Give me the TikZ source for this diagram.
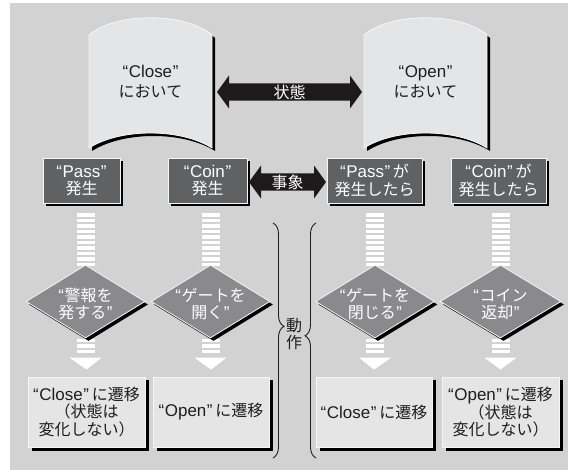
\documentclass[tikz,border=0pt]{standalone}
\usepackage{fontspec}
\setmainfont{Noto Sans CJK JP}
\newfontfamily\lt[Scale=1.06]{Liberation Sans}
\newcommand\oq{{\lt “\kern0.6pt}}
\newcommand\cq{{\lt \kern0.6pt”}}
\usetikzlibrary{shapes.geometric,shadows,decorations.pathreplacing,calc}
\definecolor{bgc}{RGB}{210,210,211}
\definecolor{cylc}{RGB}{228,229,230}
\definecolor{evc}{RGB}{96,97,99}
\definecolor{diac}{RGB}{138,138,140}
\definecolor{resc}{RGB}{229,229,230}
\definecolor{arrc}{RGB}{28,26,26}
\definecolor{txt}{RGB}{30,30,30}
\definecolor{edge}{RGB}{246,246,246}
\tikzset{
  jfont/.style={font=\fontsize{16}{17.2}\selectfont},
  evbox/.style={rectangle, fill=evc, draw=edge, line width=0.8pt, text=white, align=center, inner sep=0pt, jfont,
    minimum height=45, general shadow={fill=black, shadow xshift=3pt, shadow yshift=-3pt}},
  dia/.style={diamond, fill=diac, draw=edge, line width=0.8pt, minimum width=119, minimum height=73, inner sep=0pt,
    general shadow={fill=black, shadow xshift=3pt, shadow yshift=-3pt}},
  diaguide/.style={diamond, minimum width=119, minimum height=73, inner sep=0pt},
  diatext/.style={text=white, align=center, jfont, inner sep=0pt},
  resbox/.style={rectangle, fill=resc, draw=edge, line width=0.8pt, text=txt, align=center, inner sep=0pt, jfont,
    minimum height=70, general shadow={fill=black, shadow xshift=3.5pt, shadow yshift=-3.5pt}},
  cyltext/.style={text=txt, align=center, inner sep=0pt, font=\fontsize{16}{20}\selectfont},
  arrtext/.style={text=white, inner sep=0pt, jfont},
  bracestyle/.style={draw=txt, line width=0.9pt, decorate},
}
\newcommand\dblarrow[2]{%
  \fill[arrc] (#1) -- ([shift={(12,-16.5)}]#1) -- ([shift={(12,-8.7)}]#1) -- ([shift={(-12,-8.7)}]#2)
   -- ([shift={(-12,-16.5)}]#2) -- (#2) -- ([shift={(-12,16.5)}]#2) -- ([shift={(-12,8.7)}]#2)
   -- ([shift={(12,8.7)}]#1) -- ([shift={(12,16.5)}]#1) -- cycle;}
\newcommand\stripes[2]{%
  \foreach \k in {0,...,9}
    \fill[white] ($(#1.south -| #2.north)+(-9,10+5.5*\k)$) rectangle ++(18,3.5);}
\newcommand\stripehead[2]{%
  \foreach \k in {0,1,2}
    \fill[white] ($(#1.south)+(-9,0.5+5.5*\k)$) rectangle ++(18,3.5);
  \fill[white] ($(#1.south)+(-16,19.5)$) -- ($(#1.south)+(16,19.5)$) -- ($(#2.north)+(0,-7)$) -- cycle;}
\begin{document}
\begin{tikzpicture}[x=1pt,y=-1pt]
\useasboundingbox (0,0) rectangle (568,470);
\fill[white] (0,0) rectangle (568,470);
\fill[bgc] (10,3) rectangle (568,470);

% cylinders (states)
\foreach \cx in {150.5,425.5}{
  \fill[black] ({\cx-61.5+3},38) .. controls ({\cx-35+3},15) and ({\cx+35+3},15) .. ({\cx+61.5+3},38)
     -- ({\cx+61.5+3},151) .. controls ({\cx+30+3},131) and ({\cx-30+3},131) .. ({\cx-61.5+3},151) -- cycle;
  \filldraw[fill=cylc, draw=edge, line width=0.8pt] ({\cx-61.5},35) .. controls ({\cx-35},12) and ({\cx+35},12) .. ({\cx+61.5},35)
     -- ({\cx+61.5},148) .. controls ({\cx+30},128) and ({\cx-30},128) .. ({\cx-61.5},148) -- cycle;
}
\node[cyltext] (cylC) at (150.5,82) {{\oq}{\lt Close}{\cq}\\において};
\node[cyltext] (cylO) at (425.5,82) {{\oq}{\lt Open}{\cq}\\において};

% state arrow
\coordinate (sL) at (217,92);
\coordinate (sR) at (362,92);
\dblarrow{sL}{sR}
\node[arrtext] (stateLbl) at ($(sL)!0.5!(sR)$) {状態};

% event boxes
\node[evbox, minimum width=77] (e1) at (81.5,180.5) {{\oq}{\lt Pass}{\cq}\\発生};
\node[evbox, minimum width=79] (e2) at (207.5,180.5) {{\oq}{\lt Coin}{\cq}\\発生};
\node[evbox, minimum width=95] (e3) at (374.5,180.5) {{\oq}{\lt Pass}{\cq}\,が\\発生したら};
\node[evbox, minimum width=95] (e4) at (498.5,180.5) {{\oq}{\lt Coin}{\cq}\,が\\発生したら};

% event arrow
\coordinate (vL) at (249,182);
\coordinate (vR) at (326,182);
\dblarrow{vL}{vR}
\node[arrtext] (eventLbl) at ($(vL)!0.5!(vR)$) {事象};

% diamond guides (for the striped connectors)
\path (85.5,301.5) coordinate (d1c) (210.5,301.5) coordinate (d2c) (375,301.5) coordinate (d3c) (500.5,301.5) coordinate (d4c);
\node[diaguide] (d1p) at (d1c) {};
\node[diaguide] (d2p) at (d2c) {};
\node[diaguide] (d3p) at (d3c) {};
\node[diaguide, minimum width=121] (d4p) at (d4c) {};
\stripes{e1}{d1p}
\stripes{e2}{d2p}
\stripes{e3}{d3p}
\stripes{e4}{d4p}

% result boxes
\node[resbox, minimum width=117] (r1) at (86.5,412) {{\oq}{\lt Close}{\cq}\,に遷移\\（状態は\\変化しない）};
\node[resbox, minimum width=116] (r2) at (211,412) {{\oq}{\lt Open}{\cq}\,に遷移};
\node[resbox, minimum width=116] (r3) at (374,412) {{\oq}{\lt Close}{\cq}\,に遷移};
\node[resbox, minimum width=117] (r4) at (500.5,412) {{\oq}{\lt Open}{\cq}\,に遷移\\（状態は\\変化しない）};

\stripehead{d1p}{r1}
\stripehead{d2p}{r2}
\stripehead{d3p}{r3}
\stripehead{d4p}{r4}

\node[dia] (d1) at (d1c) {};
\node[dia] (d2) at (d2c) {};
\node[dia] (d3) at (d3c) {};
\node[dia, minimum width=121] (d4) at (d4c) {};
\node[diatext] (t1) at ([yshift=-2.5pt]d1.center) {{\oq}警報を\\発する{\cq}};
\node[diatext] (t2) at ([yshift=-2.5pt]d2.center) {{\oq}ゲートを\\開く{\cq}};
\node[diatext] (t3) at ([yshift=-2.5pt]d3.center) {{\oq}ゲートを\\閉じる{\cq}};
\node[diatext] (t4) at ([yshift=-2.5pt]d4.center) {{\oq}コイン\\返却{\cq}};

% braces
\draw[bracestyle, decoration={brace, amplitude=11pt, aspect=0.44}] (273,223) -- (273,458);
\draw[bracestyle, decoration={brace, amplitude=11pt, aspect=0.52}] (316,458) -- (316,223);
\node[text=txt, align=center, inner sep=0pt, jfont] (act) at (294,334) {動\\作};
\end{tikzpicture}
\end{document}
